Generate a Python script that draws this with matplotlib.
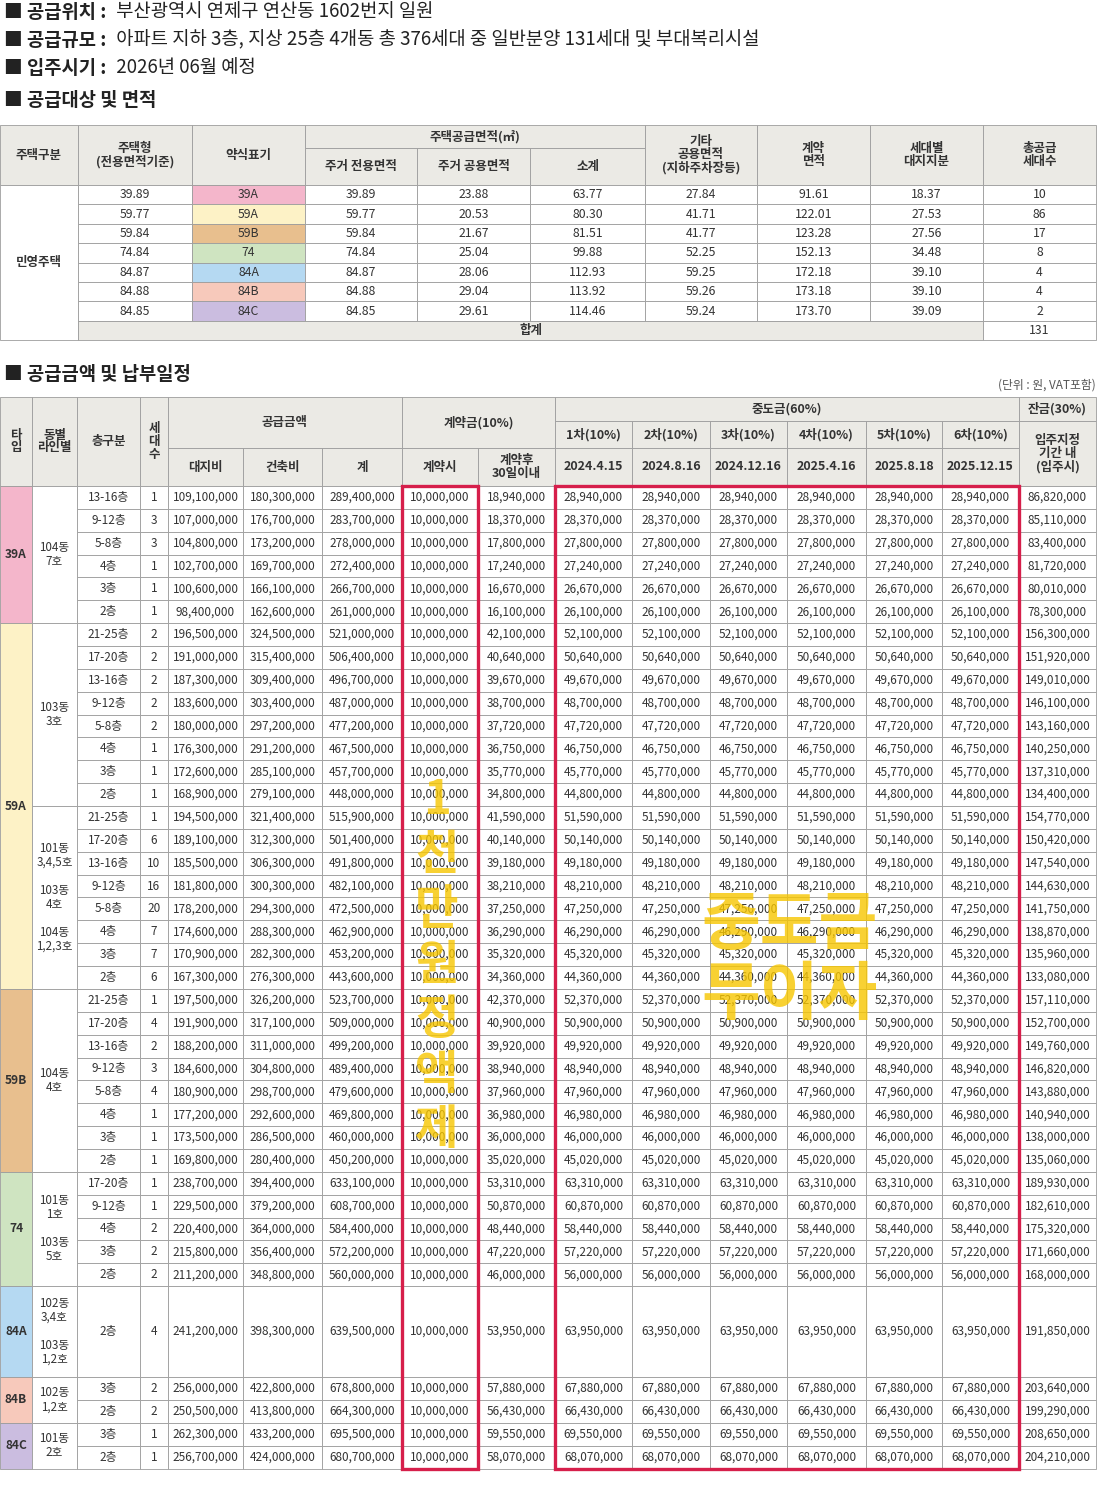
import matplotlib.pyplot as plt
from matplotlib.patches import Rectangle

plt.rcParams['font.family'] = ['Noto Sans CJK JP', 'Noto Sans CJK KR', 'Noto Sans CJK SC', 'DejaVu Sans']

# ---- data: 공급대상 및 면적 ----
area_type = ['39.89', '59.77', '59.84', '74.84', '84.87', '84.88', '84.85']
area_label = ['39A', '59A', '59B', '74', '84A', '84B', '84C']
area_excl = ['39.89', '59.77', '59.84', '74.84', '84.87', '84.88', '84.85']
area_common = ['23.88', '20.53', '21.67', '25.04', '28.06', '29.04', '29.61']
area_sub = ['63.77', '80.30', '81.51', '99.88', '112.93', '113.92', '114.46']
area_etc = ['27.84', '41.71', '41.77', '52.25', '59.25', '59.26', '59.24']
area_contract = ['91.61', '122.01', '123.28', '152.13', '172.18', '173.18', '173.70']
area_land = ['18.37', '27.53', '27.56', '34.48', '39.10', '39.10', '39.09']
area_units = ['10', '86', '17', '8', '4', '4', '2']
total_units = '131'

# ---- data: 공급금액 및 납부일정 ----
floors = ['13-16층', '9-12층', '5-8층', '4층', '3층', '2층',
          '21-25층', '17-20층', '13-16층', '9-12층', '5-8층', '4층', '3층', '2층',
          '21-25층', '17-20층', '13-16층', '9-12층', '5-8층', '4층', '3층', '2층',
          '21-25층', '17-20층', '13-16층', '9-12층', '5-8층', '4층', '3층', '2층',
          '17-20층', '9-12층', '4층', '3층', '2층',
          '2층', '3층', '2층', '3층', '2층']
units = [1, 3, 3, 1, 1, 1,
         2, 2, 2, 2, 2, 1, 1, 1,
         1, 6, 10, 16, 20, 7, 7, 6,
         1, 4, 2, 3, 4, 1, 1, 1,
         1, 1, 2, 2, 2,
         4, 2, 2, 1, 1]
land_price = ['109,100,000', '107,000,000', '104,800,000', '102,700,000', '100,600,000', '98,400,000',
              '196,500,000', '191,000,000', '187,300,000', '183,600,000', '180,000,000', '176,300,000', '172,600,000', '168,900,000',
              '194,500,000', '189,100,000', '185,500,000', '181,800,000', '178,200,000', '174,600,000', '170,900,000', '167,300,000',
              '197,500,000', '191,900,000', '188,200,000', '184,600,000', '180,900,000', '177,200,000', '173,500,000', '169,800,000',
              '238,700,000', '229,500,000', '220,400,000', '215,800,000', '211,200,000',
              '241,200,000', '256,000,000', '250,500,000', '262,300,000', '256,700,000']
build_price = ['180,300,000', '176,700,000', '173,200,000', '169,700,000', '166,100,000', '162,600,000',
               '324,500,000', '315,400,000', '309,400,000', '303,400,000', '297,200,000', '291,200,000', '285,100,000', '279,100,000',
               '321,400,000', '312,300,000', '306,300,000', '300,300,000', '294,300,000', '288,300,000', '282,300,000', '276,300,000',
               '326,200,000', '317,100,000', '311,000,000', '304,800,000', '298,700,000', '292,600,000', '286,500,000', '280,400,000',
               '394,400,000', '379,200,000', '364,000,000', '356,400,000', '348,800,000',
               '398,300,000', '422,800,000', '413,800,000', '433,200,000', '424,000,000']
total_price = ['289,400,000', '283,700,000', '278,000,000', '272,400,000', '266,700,000', '261,000,000',
               '521,000,000', '506,400,000', '496,700,000', '487,000,000', '477,200,000', '467,500,000', '457,700,000', '448,000,000',
               '515,900,000', '501,400,000', '491,800,000', '482,100,000', '472,500,000', '462,900,000', '453,200,000', '443,600,000',
               '523,700,000', '509,000,000', '499,200,000', '489,400,000', '479,600,000', '469,800,000', '460,000,000', '450,200,000',
               '633,100,000', '608,700,000', '584,400,000', '572,200,000', '560,000,000',
               '639,500,000', '678,800,000', '664,300,000', '695,500,000', '680,700,000']
deposit_first = '10,000,000'
deposit_30d = ['18,940,000', '18,370,000', '17,800,000', '17,240,000', '16,670,000', '16,100,000',
               '42,100,000', '40,640,000', '39,670,000', '38,700,000', '37,720,000', '36,750,000', '35,770,000', '34,800,000',
               '41,590,000', '40,140,000', '39,180,000', '38,210,000', '37,250,000', '36,290,000', '35,320,000', '34,360,000',
               '42,370,000', '40,900,000', '39,920,000', '38,940,000', '37,960,000', '36,980,000', '36,000,000', '35,020,000',
               '53,310,000', '50,870,000', '48,440,000', '47,220,000', '46,000,000',
               '53,950,000', '57,880,000', '56,430,000', '59,550,000', '58,070,000']
middle_pay = ['28,940,000', '28,370,000', '27,800,000', '27,240,000', '26,670,000', '26,100,000',
              '52,100,000', '50,640,000', '49,670,000', '48,700,000', '47,720,000', '46,750,000', '45,770,000', '44,800,000',
              '51,590,000', '50,140,000', '49,180,000', '48,210,000', '47,250,000', '46,290,000', '45,320,000', '44,360,000',
              '52,370,000', '50,900,000', '49,920,000', '48,940,000', '47,960,000', '46,980,000', '46,000,000', '45,020,000',
              '63,310,000', '60,870,000', '58,440,000', '57,220,000', '56,000,000',
              '63,950,000', '67,880,000', '66,430,000', '69,550,000', '68,070,000']
balance = ['86,820,000', '85,110,000', '83,400,000', '81,720,000', '80,010,000', '78,300,000',
           '156,300,000', '151,920,000', '149,010,000', '146,100,000', '143,160,000', '140,250,000', '137,310,000', '134,400,000',
           '154,770,000', '150,420,000', '147,540,000', '144,630,000', '141,750,000', '138,870,000', '135,960,000', '133,080,000',
           '157,110,000', '152,700,000', '149,760,000', '146,820,000', '143,880,000', '140,940,000', '138,000,000', '135,060,000',
           '189,930,000', '182,610,000', '175,320,000', '171,660,000', '168,000,000',
           '191,850,000', '203,640,000', '199,290,000', '208,650,000', '204,210,000']
mid_rounds = ['1차(10%)', '2차(10%)', '3차(10%)', '4차(10%)', '5차(10%)', '6차(10%)']
mid_dates = ['2024.4.15', '2024.8.16', '2024.12.16', '2025.4.16', '2025.8.18', '2025.12.15']
# (type, first row, last row)
type_spans = [('39A', 0, 5), ('59A', 6, 21), ('59B', 22, 29), ('74', 30, 34),
              ('84A', 35, 35), ('84B', 36, 37), ('84C', 38, 39)]
bldg_spans = [('104동\n7호', 0, 5), ('103동\n3호', 6, 13),
              ('101동\n3,4,5호\n\n103동\n4호\n\n104동\n1,2,3호', 14, 21),
              ('104동\n4호', 22, 29), ('101동\n1호\n\n103동\n5호', 30, 34),
              ('102동\n3,4호\n\n103동\n1,2호', 35, 35), ('102동\n1,2호', 36, 37),
              ('101동\n2호', 38, 39)]

type_colors = {'39A': '#f4b6cb', '59A': '#fdf2c6', '59B': '#e8bf8e', '74': '#cfe4c1',
               '84A': '#b5d9f2', '84B': '#f7c9bb', '84C': '#cbbde0'}
HDR = '#ebeae5'
EDGE = '#9c9c9c'
TXT = '#333333'

fig = plt.figure(figsize=(11, 14.85), dpi=100)
ax = fig.add_axes([0, 0, 1, 1])
ax.set_xlim(0, 1100)
ax.set_ylim(1485, 0)
ax.axis('off')


def cell(x0, x1, y0, y1, text='', fc='white', bold=False, fs=8.6, color=TXT, ls=1.0):
    ax.add_patch(Rectangle((x0, y0), x1 - x0, y1 - y0, facecolor=fc, edgecolor=EDGE, lw=0.6))
    if text:
        ax.text((x0 + x1) / 2, (y0 + y1) / 2, text, ha='center', va='center', fontsize=fs,
                fontweight='bold' if bold else 'normal', color=color, linespacing=ls)


# ---- top text ----
info = [('■ 공급위치 :', ' 부산광역시 연제구 연산동 1602번지 일원', 12),
        ('■ 공급규모 :', ' 아파트 지하 3층, 지상 25층 4개동 총 376세대 중 일반분양 131세대 및 부대복리시설', 40),
        ('■ 입주시기 :', ' 2026년 06월 예정', 68)]
for lab, val, y in info:
    ax.text(4, y, lab, fontsize=13.5, fontweight='bold', color='#222222', va='center')
    ax.text(112, y, val, fontsize=13.5, color='#222222', va='center')
ax.text(4, 101, '■ 공급대상 및 면적', fontsize=13.5, fontweight='bold', color='#222222', va='center')
ax.text(4, 375, '■ 공급금액 및 납부일정', fontsize=13.5, fontweight='bold', color='#222222', va='center')
ax.text(1096, 385, '(단위 : 원, VAT포함)', fontsize=8.5, color='#555555', va='center', ha='right')

# ---- table 1 ----
X1 = [0, 78, 192, 305, 417, 530, 645, 757, 870, 983, 1096]
y_top, y_mid, y_hdr = 125, 148, 185
rh1 = 19.4
cell(X1[0], X1[1], y_top, y_hdr, '주택구분', HDR, True, 9)
cell(X1[1], X1[2], y_top, y_hdr, '주택형\n(전용면적기준)', HDR, True, 9)
cell(X1[2], X1[3], y_top, y_hdr, '약식표기', HDR, True, 9)
cell(X1[3], X1[6], y_top, y_mid, '주택공급면적(㎡)', HDR, True, 9)
for i, t in enumerate(['주거 전용면적', '주거 공용면적', '소계']):
    cell(X1[3 + i], X1[4 + i], y_mid, y_hdr, t, HDR, True, 9)
for i, t in enumerate(['기타\n공용면적\n(지하주차장등)', '계약\n면적', '세대별\n대지지분', '총공급\n세대수']):
    cell(X1[6 + i], X1[7 + i], y_top, y_hdr, t, HDR, True, 9)
n1 = len(area_type)
cell(X1[0], X1[1], y_hdr, y_hdr + rh1 * (n1 + 1), '민영주택', 'white', True, 9)
cols1 = [area_type, area_label, area_excl, area_common, area_sub, area_etc, area_contract, area_land, area_units]
for r in range(n1):
    y0 = y_hdr + rh1 * r
    for c, col in enumerate(cols1):
        fc = type_colors[area_label[r]] if c == 1 else 'white'
        cell(X1[1 + c], X1[2 + c], y0, y0 + rh1, col[r], fc, False, 8.8)
y0 = y_hdr + rh1 * n1
cell(X1[1], X1[9], y0, y0 + rh1, '합계', HDR, True, 9)
cell(X1[9], X1[10], y0, y0 + rh1, total_units, 'white', False, 8.8)

# ---- table 2 ----
X2 = [0, 32, 77, 140, 168, 243, 322, 402, 478, 555, 632, 710, 787, 866, 942, 1019, 1096]
h0, h1, h2, h3 = 397, 421, 448, 486
rows_y = [h3]
for r in range(len(floors)):
    rows_y.append(rows_y[-1] + (91 if r == 35 else (22.86 if r < 35 else 22.9)))

cell(X2[0], X2[1], h0, h3, '타\n입', HDR, True, 9)
cell(X2[1], X2[2], h0, h3, '동별\n라인별', HDR, True, 9)
cell(X2[2], X2[3], h0, h3, '층구분', HDR, True, 9)
cell(X2[3], X2[4], h0, h3, '세\n대\n수', HDR, True, 9)
cell(X2[4], X2[7], h0, h2, '공급금액', HDR, True, 9)
for i, t in enumerate(['대지비', '건축비', '계']):
    cell(X2[4 + i], X2[5 + i], h2, h3, t, HDR, True, 9)
cell(X2[7], X2[9], h0, h2, '계약금(10%)', HDR, True, 9)
cell(X2[7], X2[8], h2, h3, '계약시', HDR, True, 9)
cell(X2[8], X2[9], h2, h3, '계약후\n30일이내', HDR, True, 9)
cell(X2[9], X2[15], h0, h1, '중도금(60%)', HDR, True, 9)
for i in range(6):
    cell(X2[9 + i], X2[10 + i], h1, h2, mid_rounds[i], HDR, True, 9)
    cell(X2[9 + i], X2[10 + i], h2, h3, mid_dates[i], HDR, True, 9)
cell(X2[15], X2[16], h0, h1, '잔금(30%)', HDR, True, 9)
cell(X2[15], X2[16], h1, h3, '입주지정\n기간 내\n(입주시)', HDR, True, 9)

for name, a, b in type_spans:
    cell(X2[0], X2[1], rows_y[a], rows_y[b + 1], name, type_colors[name], True, 8.6)
for name, a, b in bldg_spans:
    cell(X2[1], X2[2], rows_y[a], rows_y[b + 1], name, 'white', False, 8.4, ls=1.1)
for r in range(len(floors)):
    vals = [floors[r], str(units[r]), land_price[r], build_price[r], total_price[r],
            deposit_first, deposit_30d[r]] + [middle_pay[r]] * 6 + [balance[r]]
    for c, v in enumerate(vals):
        cell(X2[2 + c], X2[3 + c], rows_y[r], rows_y[r + 1], v, 'white', False, 8.5)

# red boxes
RED = '#d61f4b'
ax.add_patch(Rectangle((X2[7], h3), X2[8] - X2[7], rows_y[-1] - h3, fill=False, edgecolor=RED, lw=2.4))
ax.add_patch(Rectangle((X2[9], h3), X2[15] - X2[9], rows_y[-1] - h3, fill=False, edgecolor=RED, lw=2.4))

# yellow overlays
YEL = '#f7c600'
for i, ch in enumerate('1천만원정액제'):
    ax.text(437, 800 + i * 55, ch, fontsize=34, fontweight='bold', color=YEL, alpha=0.8,
            ha='center', va='center')
ax.text(790, 925, '중도금', fontsize=46, fontweight='bold', color=YEL, alpha=0.8, ha='center', va='center')
ax.text(790, 995, '무이자', fontsize=46, fontweight='bold', color=YEL, alpha=0.8, ha='center', va='center')

fig.savefig('out.png', dpi=100, facecolor='white')
